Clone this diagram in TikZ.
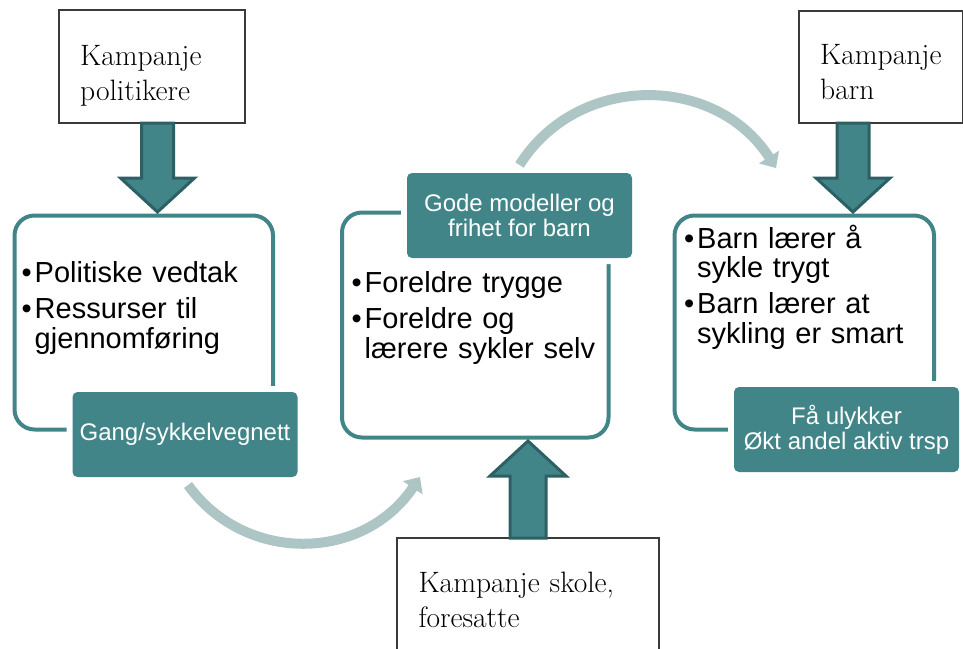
\documentclass[tikz,border=0pt]{standalone}
\usepackage{fontspec}
\newfontfamily\lsans{Liberation Sans}
\usetikzlibrary{arrows.meta,calc}

\definecolor{tealfill}{HTML}{428589}
\definecolor{tealdark}{HTML}{2D6064}
\definecolor{flowgrey}{HTML}{AEC5C6}
\definecolor{boxline}{HTML}{3A3A3A}

\newcommand\listfnt{\lsans\fontsize{29}{29.5}\selectfont}
\newcommand\tagfnt{\lsans\fontsize{24}{25}\selectfont}
\newcommand\campfnt{\fontsize{29.5}{35}\selectfont}
\newcommand\bul{\makebox[13pt][l]{•}}
\newcommand\ind{\hspace*{13pt}}

% block arrow pointing down / up from #1 (shaft start) to #2 (tip)
\newcommand\blockdown[2]{%
  \draw[blockarrow] ($(#1)+(-16,0)$) -- ($(#1)+(16,0)$) -- ($(#2)+(16,-34)$)
    -- ($(#2)+(37,-34)$) -- (#2) -- ($(#2)+(-37,-34)$) -- ($(#2)+(-16,-34)$) -- cycle;}
\newcommand\blockup[2]{%
  \draw[blockarrow] ($(#1)+(-18,0)$) -- ($(#1)+(18,0)$) -- ($(#2)+(18,35)$)
    -- ($(#2)+(38,35)$) -- (#2) -- ($(#2)+(-38,35)$) -- ($(#2)+(-18,35)$) -- cycle;}

\begin{document}
\begin{tikzpicture}[x=1pt,y=-1pt,
  frame/.style={draw=tealfill, line width=4pt, rounded corners=20pt,
    inner sep=0pt, outer sep=0pt},
  tag/.style={fill=tealfill, rounded corners=5pt,
    preaction={draw=white, line width=12pt},
    text=white, font=\tagfnt, align=center, inner sep=0pt, outer sep=0pt,
    minimum width=225pt, minimum height=85pt},
  campbox/.style={draw=boxline, line width=1.2pt, fill=white,
    inner sep=0pt, outer sep=0pt},
  camptext/.style={anchor=base west, inner sep=0pt, text width=240pt,
    align=left, font=\campfnt},
  listtext/.style={anchor=base west, inner sep=0pt, text width=250pt,
    align=left, font=\listfnt},
  blockarrow/.style={fill=tealfill, draw=tealdark, line width=3pt,
    line join=miter},
  flow/.style={draw=flowgrey, line width=10pt,
    -{Triangle[width=23pt,length=13pt]}}
]
\useasboundingbox (0,0) rectangle (963,648);
\clip (0,0) rectangle (963,648);

% outlined stages
\node[frame, minimum width=258.5pt, minimum height=214pt] (f1) at (143.75,322.5) {};
\node[frame, minimum width=266.5pt, minimum height=225pt] (f2) at (475.25,325) {};
\node[frame, minimum width=259.5pt, minimum height=214pt] (f3) at (804.25,322.5) {};

% bullet lists
\node[listtext] (l1) at (21.5,282.7)
  {\bul Politiske vedtak\\[6.5pt]\bul Ressurser til\\\ind gjennomføring};
\node[listtext] (l2) at (351.5,292.7)
  {\bul Foreldre trygge\\[6.5pt]\bul Foreldre og\\\ind lærere sykler selv};
\node[listtext] (l3) at (684,248.3)
  {\bul Barn lærer å\\\ind sykle trygt\\[6.5pt]\bul Barn lærer at\\\ind sykling er smart};

% outcome tags
\node[tag] (gang) at (185,434.5) {Gang/sykkelvegnett};
\node[tag] (gode) at (519.5,215.5) {Gode modeller og\\frihet for barn};
\node[tag] (fa)   at (846.5,429.5) {Få ulykker\\Økt andel aktiv trsp};

% campaign boxes
\node[campbox, minimum width=186pt, minimum height=113pt] (kpol) at (152,66.5) {};
\node[camptext] (kpol-t) at (80,65) {Kampanje\\politikere};
\node[campbox, minimum width=163.5pt, minimum height=112pt] (kbarn) at (880.75,67) {};
\node[camptext] (kbarn-t) at (820,64.5) {Kampanje\\barn};
\node[campbox, minimum width=262pt, minimum height=162pt] (kskole) at (528,619) {};
\node[camptext] (kskole-t) at (418.3,592.7) {Kampanje skole,\\foresatte};

% block arrows from campaigns into the stages
\coordinate (t1) at (157.5,212);
\coordinate (t2) at (853,212);
\coordinate (t3) at (528,441);
\blockdown{kpol.south -| t1}{t1}
\blockdown{kbarn.south -| t2}{t2}
\blockup{kskole.north -| t3}{t3}

% flow between stages
\coordinate (gang-out) at ($(gang.south)+(3,8)$);
\coordinate (f2-in) at (420,477);
\draw[flow] (gang-out) .. controls (245,564) and (363,562) .. (f2-in);
\coordinate (gode-out) at ($(gode.north)+(0,-8)$);
\coordinate (f3-in) at (776,168);
\draw[flow] (gode-out) .. controls (578,72) and (716,74) .. (f3-in);
\end{tikzpicture}
\end{document}
